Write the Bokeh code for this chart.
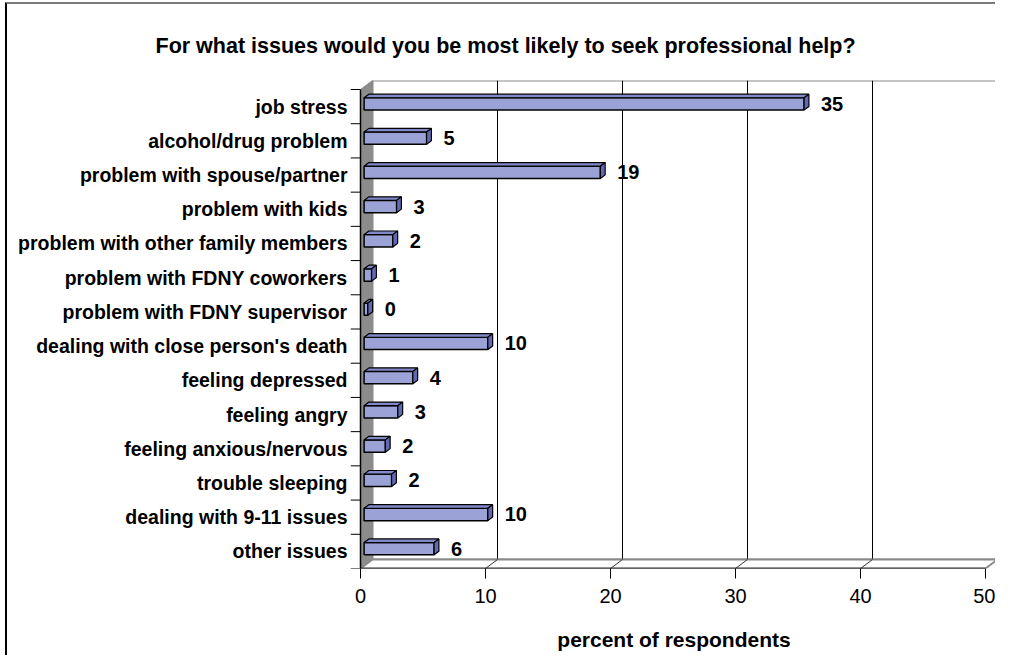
from bokeh.plotting import figure
from bokeh.models import FixedTicker, LinearAxis, Range1d, ColumnDataSource
from bokeh.core.properties import value
from bokeh.embed import file_html
from bokeh.resources import INLINE

# ---------------- data ----------------
title_text = "For what issues would you be most likely to seek professional help?"
categories = [
    "job stress",
    "alcohol/drug problem",
    "problem with spouse/partner",
    "problem with kids",
    "problem with other family members",
    "problem with FDNY coworkers",
    "problem with FDNY supervisor",
    "dealing with close person's death",
    "feeling depressed",
    "feeling angry",
    "feeling anxious/nervous",
    "trouble sleeping",
    "dealing with 9-11 issues",
    "other issues",
]
percent = [35.2, 5.0, 18.9, 2.6, 2.3, 0.6, 0.3, 9.9, 3.9, 2.7, 1.7, 2.2, 9.9, 5.6]
value_labels = ["35", "5", "19", "3", "2", "1", "0", "10", "4", "3", "2", "2", "10", "6"]
x_ticks = [0, 10, 20, 30, 40, 50]
x_title = "percent of respondents"

# ---------------- geometry / style ----------------
W, H = 990, 653
FL, FR, FT, FB = 343, 0, 76, 89
fw = W - FL - FR
fh = H - FT - FB
TICK = 10                 # category tick length (px)
DX, DY = 12, 9            # 3-D depth in px
xmax = x_ticks[-1]
n = len(categories)
sx = (fw - TICK - DX) / xmax
sy = (fh - DY) / n
dxu = DX / sx
dyu = DY / sy
tku = TICK / sx
x_start = -tku
y_start = -0.5
yb, yt = y_start, y_start + n
x_end = x_start + fw / sx
y_end = y_start + fh / sy

FONT = "Liberation Sans"
FRONT = "#9ba3d6"
TOPC = "#8189c9"
SIDE = "#6169b2"
WALL = "#8c8c8c"
EDGE = "#8a8a8a"

p = figure(width=W, height=H, x_range=Range1d(x_start, x_end), y_range=Range1d(y_start, y_end),
           output_backend="svg", toolbar_location=None, y_axis_location=None,
           min_border_left=FL, min_border_right=FR, min_border_top=FT, min_border_bottom=FB,
           title=title_text)
p.grid.visible = False
p.outline_line_color = None
p.styles = {"border-left": "2px solid #000000", "border-top": "2px solid #7a7a7a",
            "margin-left": "5px", "margin-top": "2px"}

# title
p.title.align = "left"
p.title.offset = -195
p.title.vertical_align = "middle"
p.title.standoff = 43
p.title.text_font = FONT
p.title.text_font_style = "bold"
p.title.text_font_size = "21.5px"
p.title.text_color = "black"

# back wall
p.patch([dxu, xmax + dxu, xmax + dxu, dxu], [yb + dyu, yb + dyu, yt + dyu, yt + dyu],
        fill_color="white", line_color=EDGE, line_width=2)
# grid lines on back wall
inner = x_ticks[1:-1]
p.segment(x0=[t + dxu for t in inner], y0=[yb + dyu] * len(inner),
          x1=[t + dxu for t in inner], y1=[yt + dyu] * len(inner),
          line_color="black", line_width=1)
# floor
p.patch([0, xmax, xmax + dxu, dxu], [yb, yb, yb + dyu, yb + dyu],
        fill_color="white", line_color=EDGE, line_width=2)
p.segment(x0=inner, y0=[yb] * len(inner), x1=[t + dxu for t in inner], y1=[yb + dyu] * len(inner),
          line_color="#333333", line_width=1)
# side wall
p.patch([0, dxu, dxu, 0], [yb, yb + dyu, yt + dyu, yt],
        fill_color=WALL, line_color=EDGE, line_width=1)
# front edges (category axis line and value axis line)
p.segment(x0=[0, 0], y0=[yb, yb], x1=[0, xmax], y1=[yt, yb], line_color="black", line_width=1.5)
# category tick marks at band boundaries
bounds = [yb + k for k in range(n + 1)]
p.segment(x0=[-tku] * len(bounds), y0=bounds, x1=[0] * len(bounds), y1=bounds,
          line_color="black", line_width=1)

# bars
f1, fd, bh = 0.3, 0.4, 0.36
ox, oy = f1 * dxu, f1 * dyu
ddx, ddy = fd * dxu, fd * dyu
centers = [n - 1 - i for i in range(n)]
lefts = [ox] * n
rights = [v + ox for v in percent]
bots = [c - bh / 2 + oy for c in centers]
tops = [c + bh / 2 + oy for c in centers]

p.quad(left=lefts, right=rights, bottom=bots, top=tops,
       fill_color=FRONT, line_color="black", line_width=1.5)
p.patches([[l, r, r + ddx, l + ddx] for l, r in zip(lefts, rights)],
          [[t, t, t + ddy, t + ddy] for t in tops],
          fill_color=TOPC, line_color="black", line_width=1.2)
p.patches([[r, r + ddx, r + ddx, r] for r in rights],
          [[b, b + ddy, t + ddy, t] for b, t in zip(bots, tops)],
          fill_color=SIDE, line_color="black", line_width=1.2)

gap = 12 / sx
lab_src = ColumnDataSource(dict(x=[r + ddx + gap for r in rights],
                                y=[c + oy for c in centers], t=value_labels))
p.text(x="x", y="y", text="t", source=lab_src, text_font=value(FONT), text_font_style="bold",
       text_font_size="20px", text_align="left", text_baseline="middle", text_color="black")

# x axis
xa = p.xaxis[0]
xa.ticker = FixedTicker(ticks=x_ticks)
xa.axis_line_color = None
xa.major_tick_out = 10
xa.major_tick_in = 0
xa.major_tick_line_color = "black"
xa.minor_tick_line_color = None
xa.major_label_text_font = FONT
xa.major_label_text_font_size = "20px"
xa.major_label_text_color = "black"
xa.major_label_standoff = 10
xa.axis_label = x_title
xa.axis_label_text_font = FONT
xa.axis_label_text_font_style = "bold"
xa.axis_label_text_font_size = "21px"
xa.axis_label_text_color = "black"
xa.axis_label_standoff = 22

# category labels at band centers
label_axis = LinearAxis(ticker=FixedTicker(ticks=centers),
                        major_label_overrides={c: cat for c, cat in zip(centers, categories)},
                        major_tick_out=0, major_tick_in=0, axis_line_color=None,
                        major_tick_line_color=None, minor_tick_line_color=None,
                        major_label_standoff=3, major_label_text_font=FONT,
                        major_label_text_font_style="bold", major_label_text_font_size="19.5px",
                        major_label_text_color="black")
p.add_layout(label_axis, "left")

open("out.html", "w").write(file_html(p, INLINE))
